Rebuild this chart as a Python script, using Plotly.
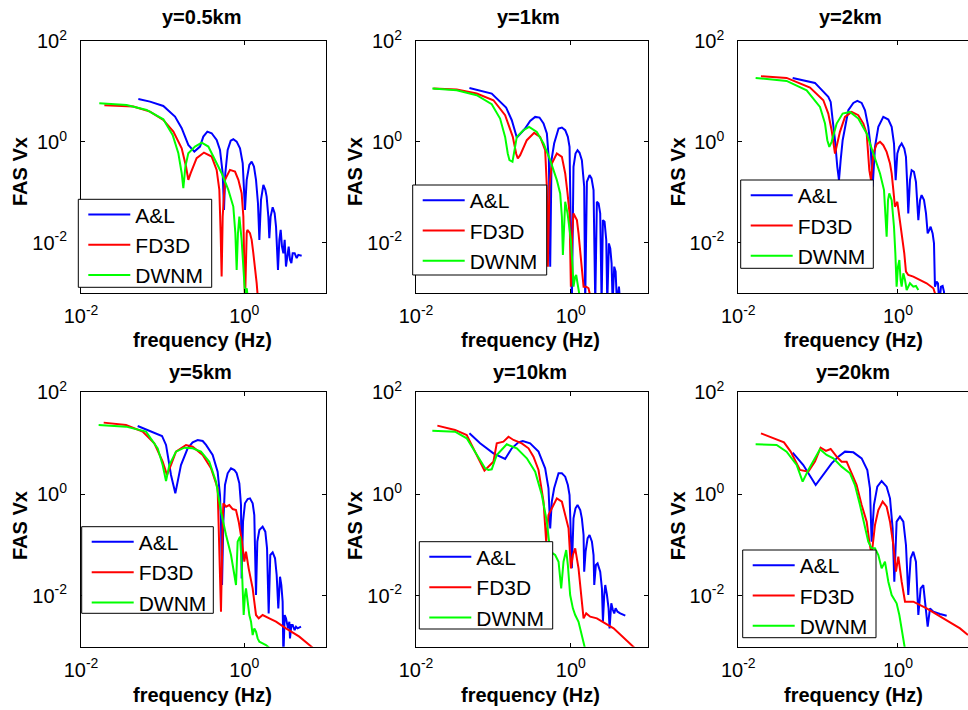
import plotly.graph_objects as go

# ---------------- text / categories ----------------
TITLES = ["y=0.5km", "y=1km", "y=2km", "y=5km", "y=10km", "y=20km"]
SERIES = ["A&L", "FD3D", "DWNM"]
X_LABEL = "frequency (Hz)"
Y_LABEL = "FAS Vx"
X_TICK_VALUES = [0.01, 1]
X_TICK_TEXT = ["10<sup>-2</sup>", "10<sup>0</sup>"]
Y_TICK_VALUES = [0.01, 1, 100]
Y_TICK_TEXT = ["10<sup>-2</sup>", "10<sup>0</sup>", "10<sup>2</sup>"]

# ---------------- data (log10 units) ----------------
# y = 0.5 km
LOGF_AL_05 = [-1.298, -1.155, -0.992, -0.849, -0.767, -0.686, -0.612, -0.543, -0.502, -0.453, -0.4, -0.339, -0.298, -0.265, -0.249, -0.233, -0.204, -0.167, -0.135, -0.094, -0.053, -0.02, 0.008, 0.029, 0.061, 0.09, 0.118, 0.143, 0.167, 0.184, 0.204, 0.233, 0.257, 0.273, 0.294, 0.306, 0.322, 0.347, 0.371, 0.388, 0.412, 0.429, 0.445, 0.461, 0.478, 0.494, 0.51, 0.527, 0.543, 0.559, 0.576, 0.592, 0.616, 0.641, 0.661, 0.702]
LOGA_AL_05 = [0.851, 0.799, 0.713, 0.502, 0.271, -0.059, -0.191, -0.092, 0.106, 0.205, 0.172, 0.04, -0.158, -0.62, -1.347, -0.62, -0.158, 0.026, 0.053, 0.007, -0.125, -0.422, -1.347, -0.752, -0.455, -0.389, -0.488, -0.752, -1.215, -1.941, -1.149, -0.851, -0.95, -1.083, -1.479, -1.908, -1.479, -1.294, -1.413, -1.677, -2.535, -1.941, -1.743, -2.073, -2.205, -1.941, -2.469, -2.205, -2.073, -2.337, -2.403, -2.205, -2.205, -2.304, -2.238, -2.257]
LOGF_FD_05 = [-1.714, -1.359, -1.155, -0.992, -0.869, -0.767, -0.714, -0.686, -0.657, -0.584, -0.494, -0.4, -0.339, -0.306, -0.29, -0.278, -0.265, -0.237, -0.176, -0.114, -0.073, -0.033, -0.012, 0.008, 0.029, 0.037, 0.069, 0.09, 0.11, 0.131, 0.151, 0.171]
LOGA_FD_05 = [0.726, 0.70, 0.601, 0.436, 0.205, -0.125, -0.488, -0.752, -0.62, -0.323, -0.211, -0.29, -0.554, -0.95, -1.809, -2.667, -1.479, -0.752, -0.554, -0.587, -0.752, -1.017, -1.479, -3.2, -1.809, -1.743, -1.809, -1.941, -2.205, -2.469, -2.799, -3.2]
LOGF_DW_05 = [-1.776, -1.441, -1.196, -0.992, -0.878, -0.808, -0.767, -0.747, -0.722, -0.686, -0.604, -0.522, -0.441, -0.359, -0.278, -0.196, -0.135, -0.11, -0.094, -0.078, -0.061, -0.033, -0.012, 0.008, 0.03, 0.049]
LOGA_DW_05 = [0.766, 0.733, 0.634, 0.449, 0.139, -0.224, -0.62, -0.917, -0.488, -0.224, -0.092, -0.013, -0.092, -0.343, -0.62, -0.95, -1.281, -1.809, -2.535, -1.809, -1.479, -1.941, -2.403, -3.0, -2.9, -3.2]

# y = 1 km
LOGF_AL_1 = [-1.31, -1.022, -0.836, -0.763, -0.698, -0.647, -0.591, -0.526, -0.461, -0.405, -0.353, -0.31, -0.284, -0.267, -0.25, -0.216, -0.159, -0.116, -0.073, -0.039, -0.017, 0.013, 0.034, 0.06, 0.086, 0.112, 0.142, 0.172, 0.185, 0.207, 0.241, 0.267, 0.293, 0.315, 0.336, 0.358, 0.379, 0.397, 0.414, 0.435, 0.457, 0.47, 0.491, 0.509, 0.526, 0.539, 0.56, 0.578, 0.595, 0.621, 0.638]
LOGA_AL_1 = [1.07, 0.958, 0.681, 0.43, 0.087, 0.166, 0.265, 0.417, 0.496, 0.483, 0.364, 0.166, -0.361, -2.472, -0.361, -0.032, 0.265, 0.285, 0.232, 0.1, -0.098, -3.2, -0.493, -0.23, -0.164, -0.216, -0.361, -0.889, -3.2, -0.79, -0.658, -0.724, -0.955, -3.2, -1.186, -1.219, -1.417, -3.2, -1.549, -1.582, -1.945, -3.2, -2.011, -2.11, -2.406, -3.2, -2.472, -2.571, -3.2, -2.868, -3.2]
LOGF_FD_1 = [-1.776, -1.474, -1.216, -1.0, -0.849, -0.75, -0.707, -0.685, -0.655, -0.569, -0.474, -0.397, -0.332, -0.31, -0.297, -0.276, -0.246, -0.181, -0.116, -0.073, -0.043, -0.017, 0.0, 0.017, 0.034, 0.078, 0.099, 0.121, 0.142, 0.164, 0.198, 0.228, 0.272]
LOGA_FD_1 = [1.057, 1.037, 0.958, 0.826, 0.529, 0.1, -0.23, -0.328, -0.263, 0.034, 0.179, 0.1, -0.164, -0.889, -2.472, -0.889, -0.427, -0.23, -0.296, -0.625, -1.021, -1.417, -2.868, -1.813, -1.417, -1.549, -1.813, -2.208, -2.604, -2.868, -2.868, -2.901, -3.2]
LOGF_DW_1 = [-1.789, -1.474, -1.216, -1.022, -0.914, -0.849, -0.815, -0.793, -0.754, -0.728, -0.698, -0.612, -0.539, -0.44, -0.353, -0.267, -0.181, -0.138, -0.116, -0.103, -0.086, -0.073, -0.043, -0.017, 0.0, 0.022, 0.034, 0.056, 0.069, 0.086, 0.099, 0.129]
LOGA_DW_1 = [1.057, 1.024, 0.925, 0.747, 0.463, 0.1, -0.23, -0.361, -0.394, -0.164, 0.1, 0.232, 0.298, 0.199, -0.032, -0.361, -0.757, -1.021, -1.483, -2.241, -1.483, -1.186, -1.417, -1.681, -1.945, -2.472, -2.868, -2.67, -2.637, -2.802, -2.934, -3.2]

# y = 2 km
LOGF_AL_2 = [-1.319, -1.04, -0.873, -0.843, -0.818, -0.789, -0.76, -0.739, -0.718, -0.693, -0.622, -0.559, -0.509, -0.455, -0.413, -0.372, -0.342, -0.317, -0.288, -0.246, -0.184, -0.121, -0.079, -0.05, -0.029, -0.008, 0.017, 0.046, 0.079, 0.1, 0.117, 0.129, 0.15, 0.171, 0.2, 0.225, 0.255, 0.276, 0.296, 0.326, 0.351, 0.372, 0.392, 0.409, 0.434, 0.451, 0.463, 0.484, 0.501, 0.518, 0.539, 0.559, 0.576, 0.589]
LOGA_AL_2 = [1.268, 1.169, 0.892, 0.793, 0.43, 0.034, -0.493, -0.757, -0.361, 0.034, 0.628, 0.773, 0.813, 0.773, 0.628, 0.298, -0.098, -0.889, -0.098, 0.298, 0.496, 0.443, 0.298, -0.032, -0.757, -0.23, -0.098, -0.032, -0.131, -0.296, -0.889, -1.417, -0.757, -0.559, -0.592, -0.79, -1.549, -1.153, -1.054, -1.153, -1.417, -1.813, -1.747, -1.681, -1.813, -2.011, -2.868, -2.769, -2.802, -3.2, -2.868, -2.855, -2.967, -3.2]
LOGF_FD_2 = [-1.716, -1.395, -1.102, -0.935, -0.873, -0.831, -0.789, -0.76, -0.727, -0.664, -0.58, -0.497, -0.434, -0.392, -0.359, -0.338, -0.309, -0.267, -0.225, -0.184, -0.142, -0.1, -0.079, -0.058, -0.038, -0.008, 0.013, 0.033, 0.058, 0.079, 0.1, 0.129, 0.192, 0.276, 0.359, 0.443, 0.505]
LOGA_FD_2 = [1.301, 1.268, 1.077, 0.826, 0.562, 0.232, -0.23, -0.032, 0.199, 0.496, 0.595, 0.529, 0.364, 0.166, -0.559, -0.757, -0.23, -0.045, 0.001, -0.065, -0.197, -0.427, -0.625, -0.955, -1.285, -1.186, -1.417, -1.681, -1.945, -2.208, -2.571, -2.637, -2.67, -2.736, -2.802, -2.901, -3.2]
LOGF_DW_2 = [-1.783, -1.395, -1.144, -0.977, -0.914, -0.885, -0.86, -0.831, -0.768, -0.693, -0.601, -0.497, -0.392, -0.309, -0.225, -0.175, -0.154, -0.142, -0.125, -0.109, -0.079, -0.05, -0.033, -0.017, 0.0, 0.017, 0.033, 0.046, 0.067, 0.088, 0.109, 0.129, 0.15, 0.192, 0.225, 0.255]
LOGA_DW_2 = [1.268, 1.208, 1.024, 0.694, 0.364, 0.034, -0.098, 0.001, 0.364, 0.562, 0.595, 0.463, 0.166, -0.23, -0.625, -0.955, -1.417, -1.879, -1.153, -1.021, -1.153, -1.681, -2.208, -2.868, -2.472, -2.34, -2.736, -2.868, -2.604, -2.736, -2.934, -2.868, -2.802, -2.868, -2.855, -2.934]

# y = 5 km
LOGF_AL_5 = [-1.306, -1.008, -0.959, -0.939, -0.898, -0.845, -0.816, -0.776, -0.694, -0.633, -0.571, -0.51, -0.469, -0.388, -0.327, -0.298, -0.286, -0.273, -0.257, -0.237, -0.204, -0.163, -0.122, -0.094, -0.061, -0.041, -0.033, -0.016, 0.008, 0.041, 0.069, 0.102, 0.122, 0.143, 0.159, 0.184, 0.224, 0.257, 0.278, 0.298, 0.318, 0.347, 0.376, 0.396, 0.416, 0.437, 0.453, 0.469, 0.478, 0.494, 0.51, 0.535, 0.551, 0.559, 0.576, 0.592, 0.616, 0.633, 0.653, 0.694]
LOGA_AL_5 = [1.338, 1.142, 0.965, 0.768, 0.375, 0.014, 0.244, 0.571, 0.899, 1.017, 1.063, 1.043, 0.965, 0.768, 0.44, -0.018, -0.543, -1.788, -0.543, 0.178, 0.408, 0.506, 0.473, 0.408, 0.211, -0.215, -1.657, -0.543, -0.182, -0.097, -0.084, -0.182, -0.412, -1.984, -0.936, -0.706, -0.641, -0.739, -1.067, -2.345, -1.198, -1.145, -1.263, -1.591, -2.246, -1.624, -1.788, -2.115, -3.2, -2.377, -2.443, -2.64, -2.509, -2.836, -2.574, -2.574, -2.672, -2.607, -2.64, -2.607]
LOGF_FD_5 = [-1.722, -1.449, -1.245, -1.102, -1.0, -0.947, -0.898, -0.837, -0.714, -0.633, -0.51, -0.408, -0.327, -0.306, -0.286, -0.265, -0.257, -0.224, -0.184, -0.143, -0.102, -0.069, -0.029, 0.0, 0.02, 0.053, 0.069, 0.102, 0.122, 0.143, 0.176, 0.224, 0.306, 0.388, 0.51, 0.673, 0.837]
LOGA_FD_5 = [1.404, 1.358, 1.227, 0.997, 0.637, 0.375, 0.571, 0.834, 0.965, 0.932, 0.768, 0.506, 0.113, -0.936, -2.312, -0.543, -0.182, -0.248, -0.215, -0.294, -0.313, -0.543, -0.936, -1.329, -1.132, -1.46, -1.591, -1.853, -2.115, -2.377, -2.443, -2.377, -2.443, -2.509, -2.64, -2.803, -3.02]
LOGF_DW_5 = [-1.784, -1.449, -1.204, -1.061, -1.0, -0.959, -0.918, -0.837, -0.735, -0.633, -0.531, -0.429, -0.347, -0.286, -0.224, -0.163, -0.122, -0.102, -0.082, -0.053, -0.033, -0.008, 0.008, 0.02, 0.041, 0.061, 0.082, 0.102, 0.122, 0.143, 0.163, 0.184, 0.224, 0.265, 0.327]
LOGA_DW_5 = [1.358, 1.325, 1.227, 0.899, 0.571, 0.257, 0.571, 0.834, 0.912, 0.899, 0.834, 0.637, 0.244, -0.346, -0.805, -1.198, -1.591, -1.788, -0.936, -0.837, -1.329, -2.377, -1.984, -1.853, -2.115, -2.377, -2.509, -2.771, -2.64, -2.705, -2.836, -2.902, -2.934, -2.967, -3.05]

# y = 10 km
LOGF_AL_10 = [-1.31, -1.172, -1.0, -0.849, -0.763, -0.677, -0.621, -0.526, -0.418, -0.332, -0.289, -0.267, -0.246, -0.216, -0.159, -0.116, -0.073, -0.039, -0.017, 0.013, 0.034, 0.06, 0.086, 0.121, 0.142, 0.164, 0.172, 0.19, 0.216, 0.241, 0.272, 0.293, 0.302, 0.323, 0.345, 0.379, 0.401, 0.414, 0.431, 0.444, 0.466, 0.487, 0.5, 0.522, 0.543, 0.56, 0.578, 0.603, 0.638, 0.703]
LOGA_AL_10 = [1.194, 0.997, 0.801, 0.689, 0.899, 1.017, 1.043, 0.997, 0.834, 0.506, 0.113, -0.674, -0.149, 0.113, 0.408, 0.408, 0.342, 0.178, -0.018, -1.46, -0.477, -0.28, -0.215, -0.313, -0.477, -0.805, -1.526, -1.132, -0.87, -0.805, -0.936, -1.198, -1.788, -1.395, -1.362, -1.526, -1.853, -2.509, -1.984, -1.788, -1.984, -2.246, -2.64, -2.148, -2.279, -2.345, -2.246, -2.312, -2.345, -2.391]
LOGF_FD_10 = [-1.724, -1.496, -1.345, -1.237, -1.116, -1.043, -1.0, -0.957, -0.871, -0.806, -0.741, -0.634, -0.547, -0.483, -0.418, -0.353, -0.319, -0.289, -0.246, -0.181, -0.116, -0.073, -0.03, 0.0, 0.026, 0.056, 0.099, 0.142, 0.164, 0.198, 0.25, 0.336, 0.552, 0.841]
LOGA_FD_10 = [1.345, 1.26, 1.161, 0.834, 0.46, 0.571, 0.637, 0.997, 1.03, 1.128, 1.063, 0.997, 0.899, 0.735, 0.473, -0.149, -0.936, -0.412, -0.28, -0.084, -0.149, -0.412, -0.674, -1.46, -1.198, -1.067, -1.46, -2.115, -2.443, -2.345, -2.41, -2.443, -2.64, -3.05]
LOGF_DW_10 = [-1.789, -1.496, -1.345, -1.216, -1.108, -1.065, -1.022, -0.957, -0.828, -0.698, -0.569, -0.461, -0.375, -0.31, -0.267, -0.233, -0.203, -0.159, -0.125, -0.095, -0.06, -0.039, -0.009, 0.026, 0.056, 0.099, 0.142, 0.185]
LOGA_DW_10 = [1.246, 1.227, 1.096, 0.768, 0.506, 0.473, 0.486, 0.768, 0.978, 0.899, 0.702, 0.44, -0.018, -0.543, -1.132, -1.165, -1.198, -1.329, -1.853, -1.329, -1.1, -1.395, -1.984, -2.246, -2.377, -2.509, -2.771, -3.05]

# y = 20 km
LOGF_AL_20 = [-1.319, -1.186, -1.031, -0.935, -0.831, -0.747, -0.664, -0.559, -0.455, -0.384, -0.351, -0.33, -0.301, -0.259, -0.205, -0.142, -0.1, -0.067, -0.046, -0.017, 0.025, 0.067, 0.1, 0.129, 0.159, 0.192, 0.225, 0.255, 0.284, 0.317, 0.347, 0.372, 0.401, 0.443, 0.526, 0.61]
LOGA_AL_20 = [0.814, 0.571, 0.178, 0.375, 0.604, 0.735, 0.834, 0.82, 0.702, 0.473, 0.113, -0.936, -0.215, 0.145, 0.257, 0.145, -0.084, -0.674, -1.722, -0.543, -0.444, -0.543, -1.001, -1.984, -1.263, -1.132, -1.329, -2.377, -1.853, -1.788, -2.246, -2.607, -2.246, -2.312, -2.358, -2.391]
LOGF_FD_20 = [-1.716, -1.428, -1.344, -1.228, -1.123, -1.04, -0.969, -0.902, -0.843, -0.768, -0.706, -0.643, -0.58, -0.518, -0.455, -0.392, -0.359, -0.33, -0.288, -0.246, -0.192, -0.142, -0.1, -0.058, -0.025, 0.004, 0.046, 0.088, 0.192, 0.359, 0.568, 0.777, 0.877]
LOGA_FD_20 = [1.194, 1.017, 0.834, 0.473, 0.44, 0.637, 0.912, 0.847, 0.886, 0.735, 0.637, 0.637, 0.408, 0.178, -0.215, -0.543, -0.936, -1.198, -0.608, -0.313, -0.149, -0.248, -0.543, -1.001, -1.526, -1.23, -1.722, -2.115, -2.115, -2.246, -2.443, -2.64, -2.771]
LOGF_DW_20 = [-1.783, -1.52, -1.395, -1.269, -1.194, -1.123, -0.977, -0.894, -0.81, -0.706, -0.601, -0.539, -0.476, -0.426, -0.372, -0.33, -0.288, -0.246, -0.205, -0.163, -0.121, -0.079, -0.017, 0.017, 0.046, 0.088]
LOGA_DW_20 = [0.978, 0.965, 0.834, 0.571, 0.244, 0.473, 0.879, 0.768, 0.702, 0.539, 0.408, 0.178, -0.215, -0.543, -0.936, -1.067, -1.067, -1.198, -1.46, -1.329, -1.722, -1.984, -2.148, -2.377, -2.64, -3.05]

PANEL_DATA = [
    [(LOGF_AL_05, LOGA_AL_05), (LOGF_FD_05, LOGA_FD_05), (LOGF_DW_05, LOGA_DW_05)],
    [(LOGF_AL_1, LOGA_AL_1), (LOGF_FD_1, LOGA_FD_1), (LOGF_DW_1, LOGA_DW_1)],
    [(LOGF_AL_2, LOGA_AL_2), (LOGF_FD_2, LOGA_FD_2), (LOGF_DW_2, LOGA_DW_2)],
    [(LOGF_AL_5, LOGA_AL_5), (LOGF_FD_5, LOGA_FD_5), (LOGF_DW_5, LOGA_DW_5)],
    [(LOGF_AL_10, LOGA_AL_10), (LOGF_FD_10, LOGA_FD_10), (LOGF_DW_10, LOGA_DW_10)],
    [(LOGF_AL_20, LOGA_AL_20), (LOGF_FD_20, LOGA_FD_20), (LOGF_DW_20, LOGA_DW_20)],
]

# ---------------- styling / layout ----------------
W, H = 968, 710
FONT = "Arial, Liberation Sans, sans-serif"
COLORS = ["#0000ff", "#ff0000", "#00ff00"]

# plot-area boxes in pixels: (left, right, top, bottom)
PANEL_BOX = [(81, 326, 41, 293.3), (416, 648.3, 41, 293.3), (738.3, 968, 41, 293.3),
             (81, 326, 392.3, 646.7), (416, 648.3, 392.3, 646.7), (738.3, 968, 392.3, 646.7)]
X_RANGE = [(-2, 1), (-2, 1), (-2, 0.877), (-2, 1), (-2, 1), (-2, 0.877)]
Y_RANGE = (-3, 2)
# legend boxes (left, top, right, bottom) in pixels
LEGEND_BOX = [(78.3, 199.3, 211.7, 287.3), (412.7, 185, 546.7, 275), (740.7, 180, 873.3, 268.3),
              (81.7, 526.7, 213.3, 613.3), (419.3, 541.7, 552.7, 629), (742.7, 550, 876, 637.7)]
TITLE_POS = [(202.2, 17), (528.7, 17), (850.8, 17), (200, 372), (530.3, 372), (853, 372)]
XLABEL_POS = [(202, 340), (530.8, 340), (853.3, 340), (202, 695), (530.8, 695), (853.3, 695)]
YLABEL_POS = [(20, 172), (355, 172), (678.3, 172), (20, 526), (355, 526), (678.3, 526)]

fig = go.Figure()
layout = dict(
    template="none",
    width=W, height=H, margin=dict(l=0, r=0, t=0, b=0, pad=0, autoexpand=False),
    paper_bgcolor="white", plot_bgcolor="white",
    font=dict(family=FONT, size=20, color="black"),
    showlegend=True, annotations=[], shapes=[],
)

for i in range(6):
    n = i + 1
    xa = "x" if n == 1 else f"x{n}"
    ya = "y" if n == 1 else f"y{n}"
    leg = "legend" if n == 1 else f"legend{n}"
    for s, (lf, la) in enumerate(PANEL_DATA[i]):
        fig.add_trace(go.Scatter(
            x=[10 ** v for v in lf], y=[10 ** v for v in la],
            mode="lines", name=SERIES[s],
            line=dict(color=COLORS[s], width=2),
            xaxis=xa, yaxis=ya, legend=leg, hoverinfo="skip",
        ))
    l, r, t, b = PANEL_BOX[i]
    last_col = (i % 3 == 2)
    layout["xaxis" if n == 1 else f"xaxis{n}"] = dict(
        domain=[l / W, r / W], anchor=ya, type="log", range=list(X_RANGE[i]),
        tickmode="array", tickvals=X_TICK_VALUES, ticktext=X_TICK_TEXT,
        ticks="inside", ticklen=4, tickcolor="black", tickwidth=1,
        showline=True, linecolor="black", linewidth=1, mirror="ticks",
        showgrid=False, zeroline=False, automargin=False,
        ticklabelstandoff=5,
        tickfont=dict(family=FONT, size=20, color="black"),
    )
    layout["yaxis" if n == 1 else f"yaxis{n}"] = dict(
        domain=[1 - b / H, 1 - t / H], anchor=xa, type="log", range=list(Y_RANGE),
        tickmode="array", tickvals=Y_TICK_VALUES, ticktext=Y_TICK_TEXT,
        ticks="inside", ticklen=4, tickcolor="black", tickwidth=1,
        showline=True, linecolor="black", linewidth=1,
        mirror=False if last_col else "ticks",
        showgrid=False, zeroline=False, automargin=False,
        ticklabelstandoff=9,
        tickfont=dict(family=FONT, size=20, color="black"),
    )
    bl, bt, br, bb = LEGEND_BOX[i]
    layout["shapes"].append(dict(
        type="rect", xref="paper", yref="paper", layer="above",
        x0=bl / W, x1=br / W, y0=1 - bb / H, y1=1 - bt / H,
        fillcolor="white", line=dict(color="black", width=1)))
    layout[leg] = dict(
        x=(bl + 5) / W, y=1 - (bt - 5) / H, xanchor="left", yanchor="top",
        xref="paper", yref="paper",
        bgcolor="rgba(0,0,0,0)", borderwidth=0,
        font=dict(family=FONT, size=21, color="black"),
        itemwidth=42, tracegroupgap=0,
    )
    tx, ty = TITLE_POS[i]
    layout["annotations"].append(dict(
        text=f"<b>{TITLES[i]}</b>", x=tx / W, y=1 - ty / H, xref="paper", yref="paper",
        xanchor="center", yanchor="middle", showarrow=False,
        font=dict(family=FONT, size=20, color="black")))
    xx, xy = XLABEL_POS[i]
    layout["annotations"].append(dict(
        text=f"<b>{X_LABEL}</b>", x=xx / W, y=1 - xy / H, xref="paper", yref="paper",
        xanchor="center", yanchor="middle", showarrow=False,
        font=dict(family=FONT, size=20, color="black")))
    yx, yy = YLABEL_POS[i]
    layout["annotations"].append(dict(
        text=f"<b>{Y_LABEL}</b>", x=yx / W, y=1 - yy / H, xref="paper", yref="paper",
        xanchor="center", yanchor="middle", showarrow=False, textangle=-90,
        font=dict(family=FONT, size=20, color="black")))

fig.update_layout(**layout)
fig.write_html("out.html")
